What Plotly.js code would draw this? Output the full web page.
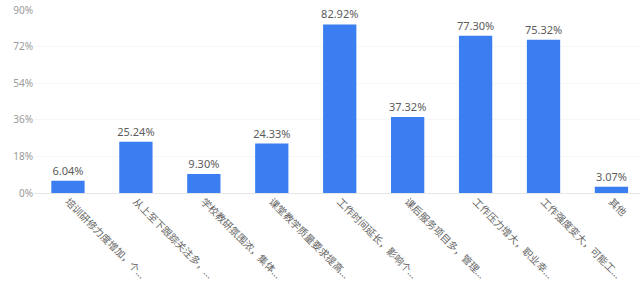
<!DOCTYPE html>
<html>
<head>
<meta charset="utf-8">
<script src="https://cdn.plot.ly/plotly-3.0.1.min.js"></script>
<style>html,body{margin:0;padding:0;background:#fff}#chart{width:640px;height:283px}</style>
</head>
<body>
<div id="chart"></div>
<script>
var categories = [
  "培训研修力度增加，个...",
  "从上至下跟踪关注多，...",
  "学校教研氛围浓，集体...",
  "课堂教学质量要求提高...",
  "工作时间延长，影响个...",
  "课后服务项目多，管理...",
  "工作压力增大，职业幸...",
  "工作强度变大，可能工...",
  "其他"
];
var values = [6.04, 25.24, 9.30, 24.33, 82.92, 37.32, 77.30, 75.32, 3.07];
var yTickVals = [0, 18, 36, 54, 72, 90];
var yTickText = ["0%", "18%", "36%", "54%", "72%", "90%"];

var trace = {
  type: "bar",
  x: categories.map(function(c, i){ return i; }),
  y: values,
  width: 0.49,
  marker: {color: "#3b7ef2"},
  text: values.map(function(v){ return v.toFixed(2) + "%"; }),
  textposition: "outside",
  constraintext: "none",
  cliponaxis: false,
  textfont: {family: "Noto Sans, Noto Sans CJK SC, sans-serif", size: 11, color: "#5c5c5c"},
  hoverinfo: "none"
};

var layout = {
  width: 640, height: 283,
  margin: {l: 34, r: 0, t: 10, b: 90},
  paper_bgcolor: "#fff", plot_bgcolor: "#fff",
  showlegend: false,
  xaxis: {
    range: [-0.5, 8.42],
    tickvals: categories.map(function(c, i){ return i; }),
    ticktext: categories,
    tickangle: 45,
    tickfont: {family: "Noto Sans CJK SC, sans-serif", size: 10, color: "#666"},
    showgrid: false, zeroline: false, showline: false, ticks: "", ticklen: 0
  },
  yaxis: {
    range: [0, 90],
    tickvals: yTickVals,
    ticktext: yTickText,
    tickfont: {family: "Noto Sans, sans-serif", size: 10, color: "#9a9a9a"},
    showgrid: true, gridcolor: "#f7f7f7",
    zeroline: true, zerolinecolor: "#e6e6e6", zerolinewidth: 1,
    showline: false, ticks: ""
  }
};

Plotly.newPlot("chart", [trace], layout, {staticPlot: true, displayModeBar: false});
</script>
</body>
</html>
